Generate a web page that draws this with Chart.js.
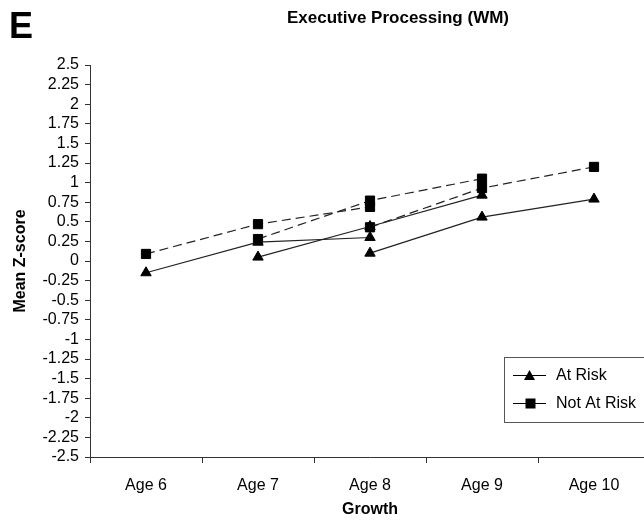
<!DOCTYPE html>
<html>
<head>
<meta charset="utf-8">
<script src="https://cdn.jsdelivr.net/npm/chart.js@4/dist/chart.umd.min.js"></script>
<style>
  body { margin: 0; background: #fff; }
  #wrap { position: relative; width: 644px; height: 520px; overflow: hidden; font-family: "Liberation Sans", Arial, sans-serif; }
  #panel { position: absolute; left: 9px; top: 6px; font-size: 36px; font-weight: bold; line-height: 40px; }
  #title { position: absolute; left: 287px; top: 8px; font-size: 17px; font-weight: bold; line-height: 20px; white-space: nowrap; }
</style>
</head>
<body>
<div id="wrap">
  <canvas id="chart" width="660" height="520"></canvas>
  <div id="panel">E</div>
  <div id="title">Executive Processing (WM)</div>
</div>
<script>
// categories and tick labels
var ages = ['Age 6', 'Age 7', 'Age 8', 'Age 9', 'Age 10'];
var zTicks = [-2.5, -2.25, -2, -1.75, -1.5, -1.25, -1, -0.75, -0.5, -0.25, 0,
              0.25, 0.5, 0.75, 1, 1.25, 1.5, 1.75, 2, 2.25, 2.5];
var seriesNames = ['At Risk', 'Not At Risk'];

// At Risk cohorts (solid, triangles)
var atRisk6to8 = [-0.15, 0.24, 0.30, null, null];
var atRisk7to9 = [null, 0.05, 0.44, 0.84, null];
var atRisk8to10 = [null, null, 0.10, 0.56, 0.79];

// Not At Risk cohorts (dashed, squares)
var notAtRisk6to8 = [0.09, 0.47, 0.69, null, null];
var notAtRisk7to9 = [null, 0.28, 0.77, 1.05, null];
var notAtRisk8to10 = [null, null, 0.43, 0.93, 1.20];

function cohort(values, risk) {
  return {
    label: risk ? seriesNames[0] : seriesNames[1],
    data: values,
    borderColor: '#222',
    borderWidth: 1.2,
    borderDash: risk ? [] : [9, 5],
    pointStyle: risk ? 'triangle' : 'rect',
    pointRadius: risk ? 6 : 6.5,
    pointBackgroundColor: '#000',
    pointBorderColor: '#000',
    pointBorderWidth: 1,
    tension: 0
  };
}

// Legend box drawn over the plot (Excel style, line + marker)
var legendBox = {
  id: 'legendBox',
  afterDraw: function(chart) {
    var ctx = chart.ctx;
    ctx.save();
    ctx.strokeStyle = '#555';
    ctx.lineWidth = 1;
    ctx.strokeRect(504.5, 357.5, 150, 65);
    ctx.font = '16px "Liberation Sans", Arial, sans-serif';
    ctx.textBaseline = 'middle';
    ctx.fillStyle = '#000';
    ctx.strokeStyle = '#000';
    ctx.lineWidth = 1.2;
    // At Risk
    ctx.beginPath(); ctx.moveTo(513, 375.5); ctx.lineTo(546, 375.5); ctx.stroke();
    ctx.beginPath(); ctx.moveTo(529.5, 370); ctx.lineTo(535, 380); ctx.lineTo(524, 380); ctx.closePath(); ctx.fill();
    ctx.fillText(seriesNames[0], 556, 376);
    // Not At Risk
    ctx.beginPath(); ctx.moveTo(513, 403.5); ctx.lineTo(546, 403.5); ctx.stroke();
    ctx.fillRect(525.5, 398.5, 10, 10);
    ctx.fillText(seriesNames[1], 556, 404);
    ctx.restore();
  }
};

var ctx = document.getElementById('chart').getContext('2d');
var growthChart = new Chart(ctx, {
  type: 'line',
  data: {
    labels: ages,
    datasets: [
      cohort(atRisk6to8, true),
      cohort(atRisk7to9, true),
      cohort(atRisk8to10, true),
      cohort(notAtRisk6to8, false),
      cohort(notAtRisk7to9, false),
      cohort(notAtRisk8to10, false)
    ]
  },
  options: {
    responsive: false,
    animation: false,
    layout: { padding: { top: 65, right: 10, left: 0, bottom: 0 } },
    plugins: {
      legend: { display: false },
      tooltip: { enabled: false },
      title: { display: false }
    },
    scales: {
      x: {
        offset: true,
        grid: { offset: true, drawOnChartArea: false, tickLength: 6, color: '#333' },
        border: { color: '#333', width: 1 },
        ticks: { color: '#000', padding: 13, font: { family: '"Liberation Sans", Arial, sans-serif', size: 16 } },
        title: {
          display: true, text: 'Growth', color: '#000',
          padding: { top: 0, bottom: 1 },
          font: { family: '"Liberation Sans", Arial, sans-serif', size: 16, weight: 'bold' }
        },
        afterFit: function(scale) { scale.height = 63; }
      },
      y: {
        min: -2.5,
        max: 2.5,
        afterBuildTicks: function(scale) {
          scale.ticks = zTicks.map(function(v) { return { value: v }; });
        },
        grid: { drawOnChartArea: false, tickLength: 5, color: '#333' },
        border: { color: '#333', width: 1 },
        ticks: {
          color: '#000', padding: 6, autoSkip: false,
          font: { family: '"Liberation Sans", Arial, sans-serif', size: 16 },
          callback: function(v) { return String(v); }
        },
        title: {
          display: true, text: 'Mean Z-score', color: '#000',
          padding: { top: 11, bottom: 0 },
          font: { family: '"Liberation Sans", Arial, sans-serif', size: 16, weight: 'bold' }
        },
        afterFit: function(scale) { scale.width = 90; }
      }
    }
  },
  plugins: [legendBox]
});
</script>
</body>
</html>
